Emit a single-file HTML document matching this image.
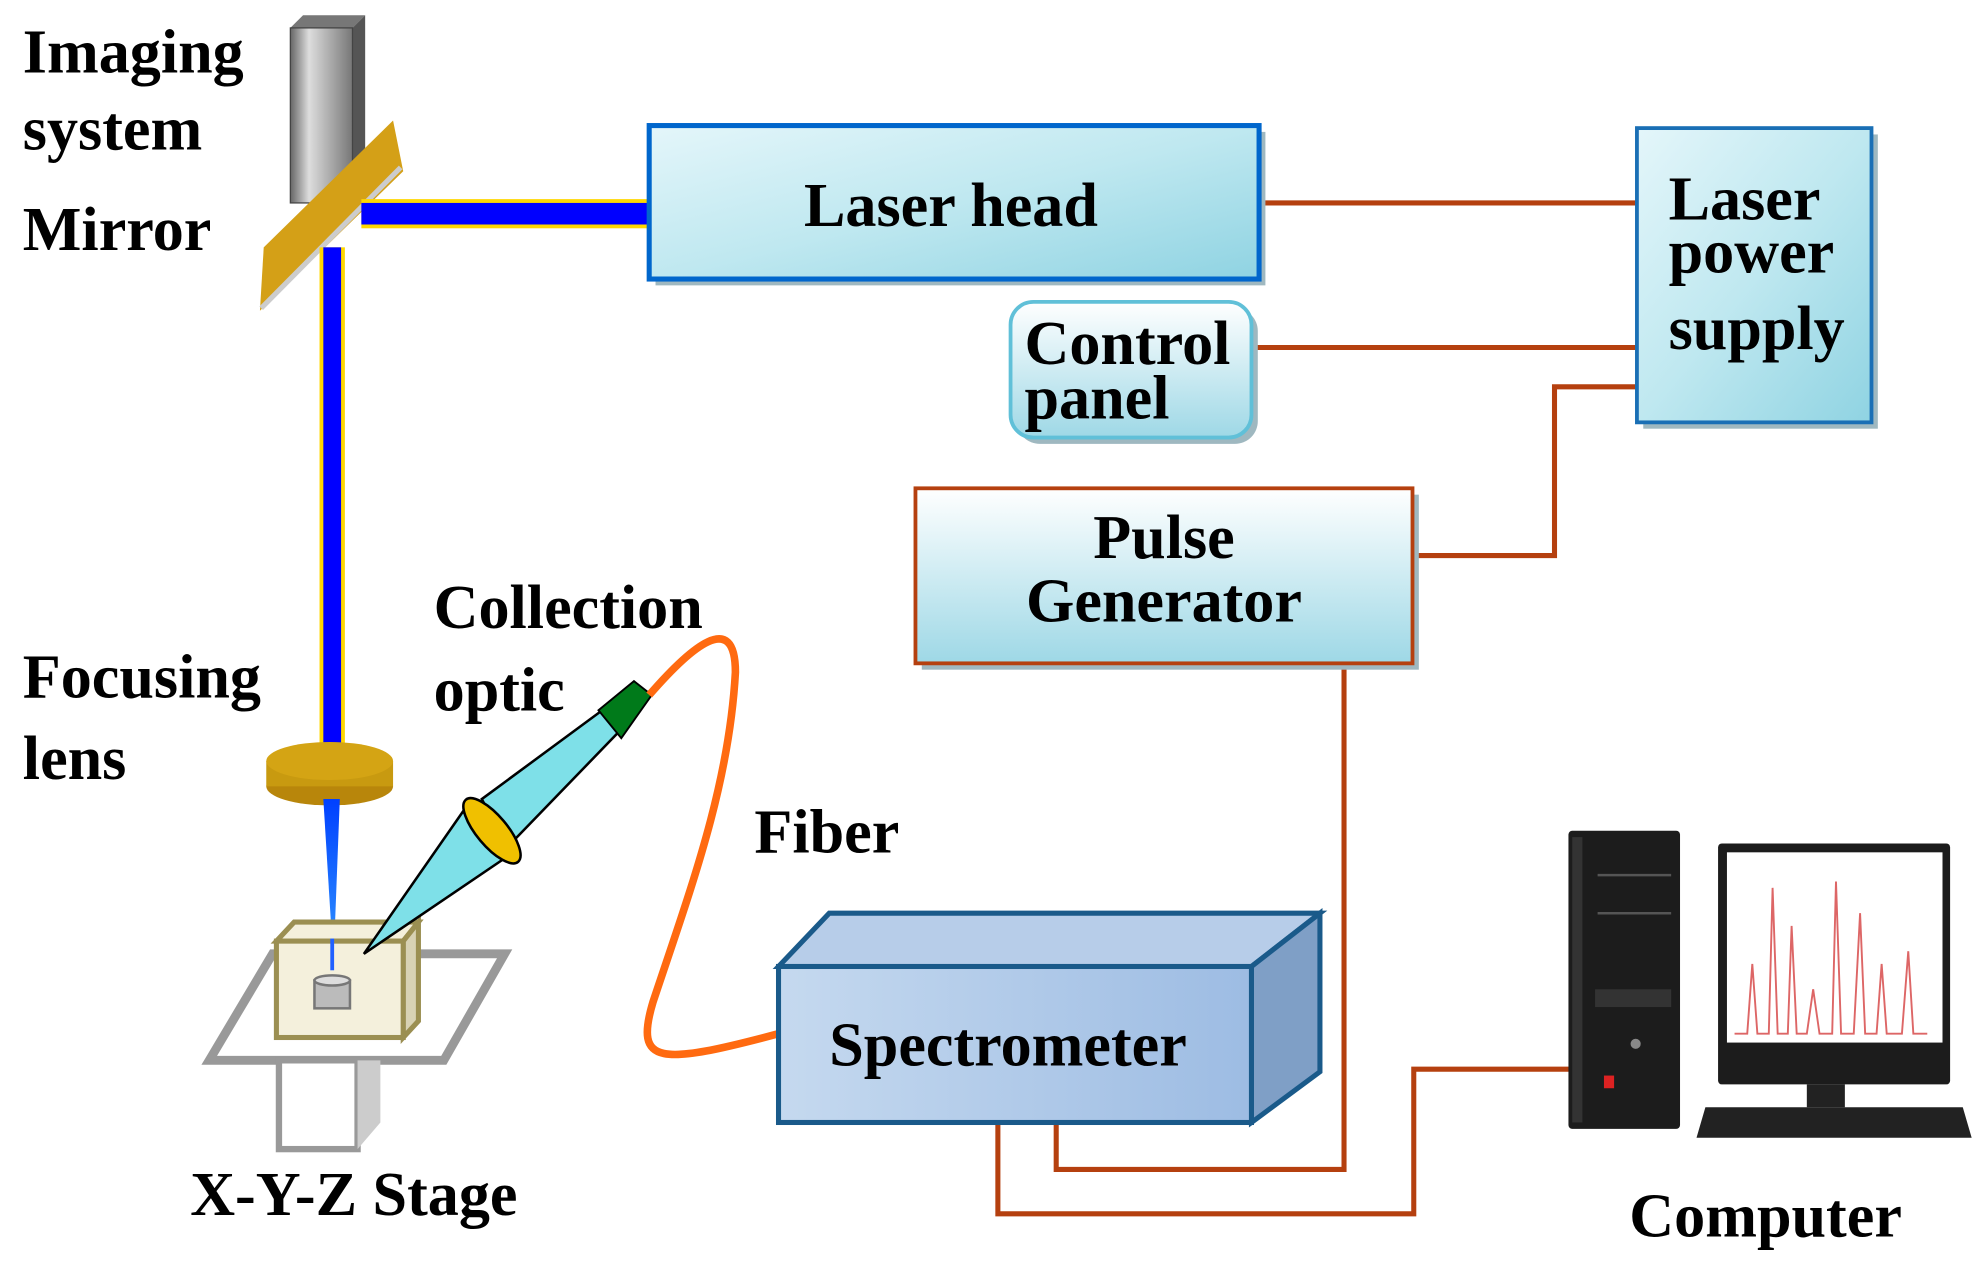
<!DOCTYPE html>
<html><head><meta charset="utf-8"><style>html,body{margin:0;padding:0;background:#fff}svg{display:block}</style></head><body>
<svg width="1978" height="1262" viewBox="0 0 1560 995" preserveAspectRatio="none" xmlns="http://www.w3.org/2000/svg">
<defs>
<linearGradient id="cy" x1="0" y1="0" x2="1" y2="1"><stop offset="0" stop-color="#e4f6fa"/><stop offset="0.5" stop-color="#bfe8f0"/><stop offset="1" stop-color="#8fd3e2"/></linearGradient>
<linearGradient id="pg" x1="0" y1="0" x2="0" y2="1"><stop offset="0" stop-color="#ffffff"/><stop offset="1" stop-color="#9ed8e6"/></linearGradient>
<linearGradient id="sp" x1="0" y1="0" x2="1" y2="0"><stop offset="0" stop-color="#c5d9ef"/><stop offset="1" stop-color="#9dbce3"/></linearGradient>
<linearGradient id="gr" x1="0" y1="0" x2="1" y2="0"><stop offset="0" stop-color="#666"/><stop offset="0.3" stop-color="#ddd"/><stop offset="1" stop-color="#777"/></linearGradient>
<linearGradient id="bc" x1="0" y1="0" x2="0" y2="1"><stop offset="0" stop-color="#0040ff"/><stop offset="1" stop-color="#3399ff"/></linearGradient>
</defs>
<g font-family="Liberation Serif, serif" font-weight="bold" font-size="49" fill="#000">
<text x="18" y="57">Imaging</text><text x="18" y="118">system</text><text x="18" y="197">Mirror</text>
<text x="18" y="550">Focusing</text><text x="18" y="614">lens</text>
<text x="342" y="495">Collection</text><text x="342" y="560">optic</text>
<text x="595" y="672">Fiber</text>
<text x="150" y="958">X-Y-Z Stage</text>
<text x="1285" y="975">Computer</text>
</g>
<!-- imaging system -->
<polygon points="229,22 239,12 288,12 278,22" fill="#777"/>
<polygon points="278,22 288,12 288,150 278,160" fill="#555"/>
<rect x="229" y="22" width="49" height="138" fill="url(#gr)" stroke="#444"/>
<!-- mirror -->
<polygon points="205,245 208,195 310,95 318,135" fill="#d4a017"/>
<line x1="206" y1="243" x2="316" y2="132" stroke="#ccc" stroke-width="4"/>
<!-- beams -->
<rect x="285" y="157" width="228" height="23" fill="#ffd700"/><rect x="285" y="160" width="228" height="17" fill="#0000ff"/>
<rect x="252" y="195" width="20" height="408" fill="#ffd700"/><rect x="255" y="195" width="14" height="408" fill="#0000ff"/>
<!-- lens -->
<ellipse cx="260" cy="620" rx="50" ry="15" fill="#b8860b"/><rect x="210" y="600" width="100" height="20" fill="#c89a10"/>
<ellipse cx="260" cy="600" rx="50" ry="15" fill="#d4a414"/>
<polygon points="255,630 268,630 263,760" fill="url(#bc)"/>
<!-- stage -->
<polygon points="165,836 215,752 398,752 350,836" fill="none" stroke="#999" stroke-width="7"/>
<rect x="220" y="836" width="62" height="70" fill="#fff" stroke="#999" stroke-width="5"/>
<polygon points="282,836 300,836 300,885 282,906" fill="#ccc"/>
<polygon points="218,742 232,727 330,727 318,742" fill="#f4f0dc" stroke="#9b8f52" stroke-width="4"/>
<polygon points="318,742 330,727 330,805 318,818" fill="#d8d2b4" stroke="#9b8f52" stroke-width="4"/>
<rect x="218" y="742" width="100" height="76" fill="#f4f0dc" stroke="#9b8f52" stroke-width="4"/>
<rect x="248" y="773" width="28" height="22" fill="#bbb" stroke="#777" stroke-width="2"/><ellipse cx="262" cy="773" rx="14" ry="4" fill="#ddd" stroke="#777" stroke-width="2"/>
<line x1="262" y1="740" x2="262" y2="765" stroke="#2060ff" stroke-width="3"/>
<!-- collection cone -->
<polygon points="287,752 365,640 405,672" fill="#7ee0e8" stroke="#000" stroke-width="2"/>
<polygon points="380,630 475,560 490,575 400,668" fill="#7ee0e8" stroke="#000" stroke-width="2"/>
<ellipse cx="388" cy="655" rx="12" ry="32" transform="rotate(-40 388 655)" fill="#f0c000" stroke="#000" stroke-width="2"/>
<polygon points="472,560 500,537 514,548 490,582" fill="#007a1a" stroke="#000" stroke-width="1.5"/>
<!-- fiber -->
<path d="M512,548 C545,510 580,480 580,530 C575,620 545,700 515,790 C500,840 520,840 614,815" fill="none" stroke="#ff6a10" stroke-width="6"/>
<!-- red wires -->
<g fill="none" stroke="#b5400f" stroke-width="4">
<line x1="993" y1="160" x2="1291" y2="160"/><line x1="987" y1="274" x2="1291" y2="274"/>
<polyline points="1291,305 1226,305 1226,438 1114,438"/>
<polyline points="1060,523 1060,922 833,922 833,885"/>
<polyline points="787,885 787,957 1115,957 1115,843 1240,843"/>
</g>
<!-- laser head -->
<rect x="517" y="104" width="481" height="121" fill="#9fb8c0"/>
<rect x="512" y="99" width="481" height="121" fill="url(#cy)" stroke="#0066cc" stroke-width="4"/>
<text x="750" y="178" text-anchor="middle" font-family="Liberation Serif, serif" font-weight="bold" font-size="49">Laser head</text>
<!-- power supply -->
<rect x="1296" y="106" width="185" height="232" fill="#9fb8c0"/>
<rect x="1291" y="101" width="185" height="232" fill="url(#cy)" stroke="#1a6fb5" stroke-width="3"/>
<g font-family="Liberation Serif, serif" font-weight="bold" font-size="49"><text x="1316" y="173">Laser</text><text x="1316" y="215">power</text><text x="1316" y="275">supply</text></g>
<!-- control panel -->
<rect x="802" y="243" width="190" height="107" rx="18" fill="#9fb8c0"/>
<rect x="797" y="238" width="190" height="107" rx="18" fill="url(#pg)" stroke="#60c0d8" stroke-width="3"/>
<g font-family="Liberation Serif, serif" font-weight="bold" font-size="49"><text x="808" y="287">Control</text><text x="808" y="330">panel</text></g>
<!-- pulse generator -->
<rect x="727" y="390" width="392" height="138" fill="#9fb8c0"/>
<rect x="722" y="385" width="392" height="138" fill="url(#pg)" stroke="#b5400f" stroke-width="3"/>
<g font-family="Liberation Serif, serif" font-weight="bold" font-size="49" text-anchor="middle"><text x="918" y="440">Pulse</text><text x="918" y="490">Generator</text></g>
<!-- spectrometer -->
<polygon points="614,762 654,720 1041,720 987,762" fill="#b7cde9" stroke="#1a5a8a" stroke-width="4"/>
<polygon points="987,762 1041,720 1041,845 987,885" fill="#7f9fc6" stroke="#1a5a8a" stroke-width="4"/>
<rect x="614" y="762" width="373" height="123" fill="url(#sp)" stroke="#1a5a8a" stroke-width="4"/>
<text x="795" y="840" text-anchor="middle" font-family="Liberation Serif, serif" font-weight="bold" font-size="49">Spectrometer</text>
<!-- computer -->
<rect x="1237" y="655" width="88" height="235" rx="3" fill="#1c1c1c"/>
<rect x="1240" y="660" width="8" height="225" fill="#333"/>
<line x1="1260" y1="690" x2="1318" y2="690" stroke="#555" stroke-width="2"/><line x1="1260" y1="720" x2="1318" y2="720" stroke="#555" stroke-width="2"/>
<rect x="1258" y="780" width="60" height="14" fill="#333"/><circle cx="1290" cy="823" r="4" fill="#888"/><rect x="1265" y="848" width="8" height="10" fill="#d22"/>
<rect x="1355" y="665" width="183" height="190" rx="3" fill="#1c1c1c"/>
<rect x="1362" y="672" width="170" height="150" fill="#fff"/>
<polyline points="1368,815 1378,815 1382,760 1386,815 1395,815 1398,700 1402,815 1410,815 1413,730 1417,815 1425,815 1430,780 1435,815 1445,815 1448,695 1452,815 1462,815 1467,720 1471,815 1480,815 1484,760 1488,815 1500,815 1505,750 1509,815 1520,815" fill="none" stroke="#d66" stroke-width="1.5"/>
<rect x="1425" y="855" width="30" height="18" fill="#222"/>
<polygon points="1345,873 1548,873 1555,897 1338,897" fill="#222"/>
</svg>
</body></html>
